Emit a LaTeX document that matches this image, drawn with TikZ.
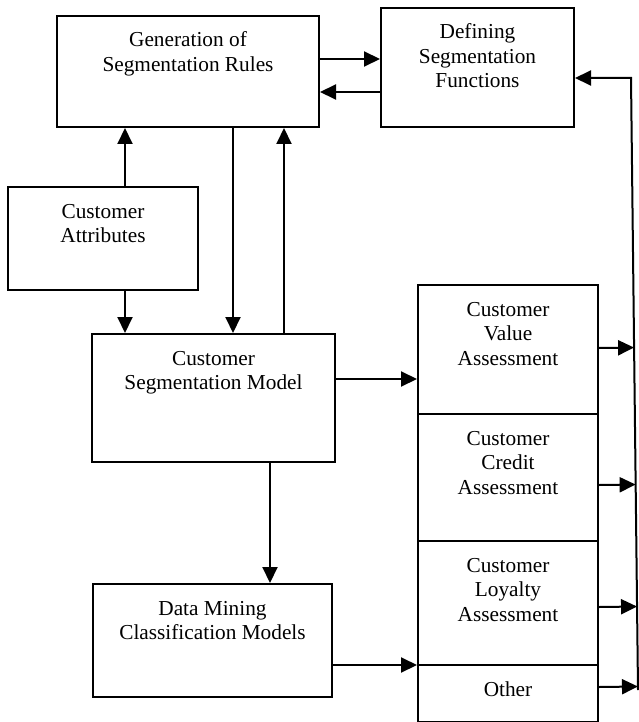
\documentclass[tikz,border=0pt]{standalone}
\usepackage{fontspec}
\setmainfont{Liberation Serif}
\usetikzlibrary{
	arrows.meta,
	calc
}
\tikzset{
	block/.style={
		draw,
		line width=2pt,
		anchor=north west,
		inner sep=0pt,
		font=\fontsize{21.3}{24.5}\selectfont
	},
	arr/.style={
		-{Triangle[length=16pt,width=15pt]},
		line width=2pt
	}
}
\newcommand{\blocktext}[3]{\parbox[t][#2][t]{#1}{\centering\rule{0pt}{31pt}#3}}

\begin{document}
\begin{tikzpicture}[x=1pt,y=-1pt] %%%% SEGMENTATION
		\useasboundingbox (0,0) rectangle (639,722);
		% left part
		\node[block] (gen) at (56,15) {\blocktext{262pt}{111pt}{Generation of\\Segmentation Rules}};
		\node[block] (def) at (380,7) {\blocktext{193pt}{119pt}{Defining\\Segmentation\\Functions}};
		\node[block] (attr) at (7,186) {\blocktext{190pt}{103pt}{Customer\\Attributes}};
		\node[block] (seg) at (91,333) {\blocktext{243pt}{128pt}{Customer\\Segmentation Model}};
		\node[block] (dm) at (92,583) {\blocktext{239pt}{113pt}{Data Mining\\Classification Models}};
		% right column
		\node[block] (value) at (417,284) {\blocktext{180pt}{129pt}{Customer\\Value\\Assessment}};
		\node[block] (credit) at (417,413) {\blocktext{180pt}{127pt}{Customer\\Credit\\Assessment}};
		\node[block] (loyalty) at (417,540) {\blocktext{180pt}{124pt}{Customer\\Loyalty\\Assessment}};
		\node[block] (other) at (417,664) {\blocktext{180pt}{57pt}{Other}};
		
		\draw[arr] ([yshift=12.5pt]gen.east) -- ([yshift=12.5pt]gen.east -| def.west);
		\draw[arr] ([yshift=-24.5pt]def.west) -- ([yshift=-24.5pt]def.west -| gen.east);
		\draw[arr] ([xshift=22pt]attr.north) -- ([xshift=22pt]attr.north |- gen.south);
		\draw[arr] ([xshift=22pt]attr.south) -- ([xshift=22pt]attr.south |- seg.north);
		\draw[arr] ([xshift=45pt]gen.south) -- ([xshift=45pt]gen.south |- seg.north);
		\draw[arr] ([xshift=70.5pt]seg.north) -- ([xshift=70.5pt]seg.north |- gen.south);
		\draw[arr] ([yshift=19pt]seg.east) -- ([yshift=19pt]seg.east -| value.west);
		\draw[arr] ([xshift=56.5pt]seg.south) -- ([xshift=56.5pt]seg.south |- dm.north);
		\draw[arr] ([yshift=-24.5pt]dm.east) -- ([yshift=-24.5pt]dm.east -| value.west);
		
		% feedback line
		\coordinate (bustop) at (631,78);
		\coordinate (busbot) at (638,690);
		\draw[arr] (busbot) -- (bustop) -- (bustop -| def.east);
		\coordinate (valueout) at ([yshift=1.5pt]value.east);
		\coordinate (creditout) at ([yshift=-7.5pt]credit.east);
		\coordinate (loyaltyout) at ([yshift=-4pt]loyalty.east);
		\coordinate (otherout) at ([yshift=6.5pt]other.east);
		\foreach \n in {valueout,creditout,loyaltyout,otherout}
			\draw[arr] (\n) -- ($(bustop)!(\n)!(busbot)$);
	\end{tikzpicture}
\end{document}
